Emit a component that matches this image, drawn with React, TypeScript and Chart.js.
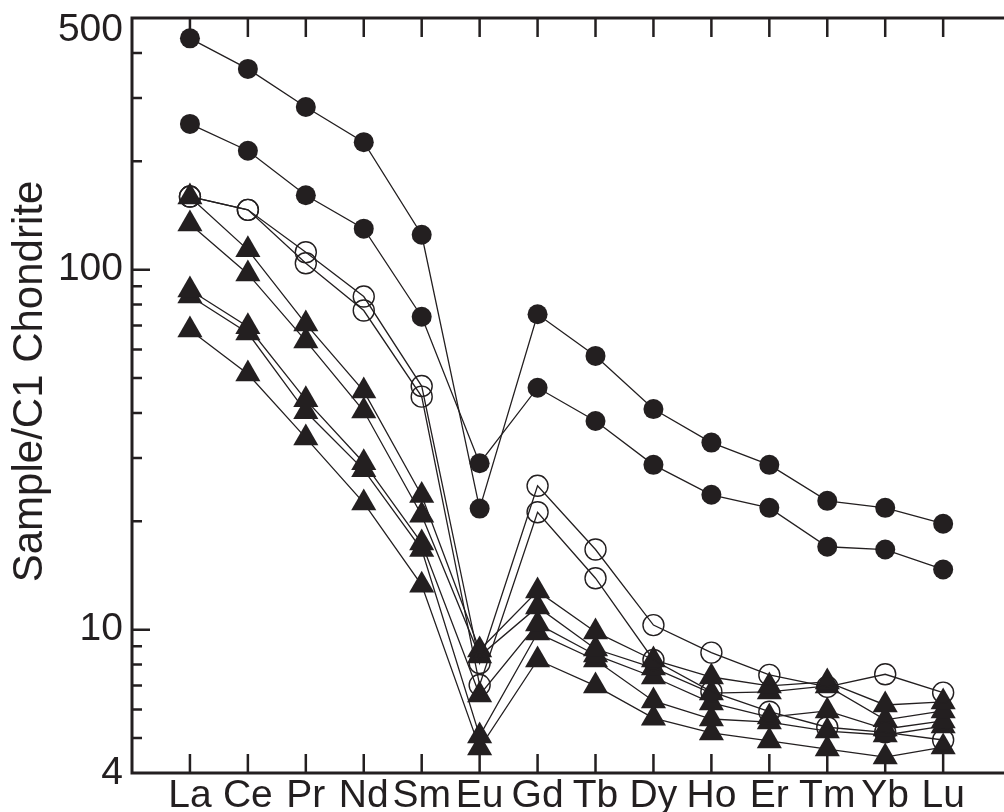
import React, { useEffect, useRef } from 'react';
import { Chart, registerables } from 'chart.js';

Chart.register(...registerables);

const ELEMENTS = ['La', 'Ce', 'Pr', 'Nd', 'Sm', 'Eu', 'Gd', 'Tb', 'Dy', 'Ho', 'Er', 'Tm', 'Yb', 'Lu'];

// filled circles
const circleHigh = [439, 361, 283, 226, 125, 21.7, 75.2, 57.6, 41.0, 33.1, 28.7, 22.8, 21.8, 19.7];
const circleLow = [254, 214, 161, 130, 74, 29.0, 47.0, 38.0, 28.7, 23.7, 21.8, 17.0, 16.7, 14.7];
// open circles
const openA = [159.6, 146.6, 111.8, 84.2, 47.5, 8.08, 25.1, 16.7, 10.3, 8.64, 7.49, 6.94, 7.52, 6.69];
const openB = [159.6, 146.6, 104.2, 77.0, 44.4, 7.02, 21.2, 13.9, 8.24, 6.73, 5.92, 5.36, 5.19, 4.94];
// filled triangles
const tri1 = [159.2, 113.5, 70.7, 46.0, 23.6, 8.78, 12.8, 9.86, 8.24, 7.39, 6.98, 7.16, 6.18, 6.3];
const tri2 = [134.0, 97.3, 63.4, 40.5, 20.8, 8.45, 11.57, 8.84, 7.83, 6.67, 6.72, 6.98, 5.62, 5.95];
const tri3 = [87.8, 69.4, 43.5, 29.1, 17.4, 6.59, 10.38, 8.51, 7.39, 6.26, 5.72, 5.95, 5.3, 5.58];
const tri4 = [84.5, 66.7, 40.3, 27.8, 16.7, 5.07, 9.79, 8.24, 6.34, 5.65, 5.54, 5.23, 5.1, 5.4];
const tri5 = [68.0, 51.3, 34.1, 22.5, 13.3, 4.69, 8.24, 6.98, 5.68, 5.17, 4.91, 4.66, 4.43, 4.72];

const Y_LABELS = [4, 10, 100, 500];
const Y_MAJOR = [10, 100];
const Y_MINOR = [5, 6, 7, 8, 9, 20, 30, 40, 50, 60, 70, 80, 90, 200, 300, 400];
const Y_TITLE = 'Sample/C1 Chondrite';

const INK = '#231f20';
const FONT = "'Liberation Sans', Arial, Helvetica, sans-serif";

type Kind = 'dot' | 'ring' | 'tri';

function makeDataset(values: number[], kind: Kind) {
  const base: any = {
    data: values.map((v, i) => ({ x: i, y: v })),
    borderColor: INK,
    borderWidth: 1.3,
    tension: 0,
    fill: false,
    pointHoverRadius: 0,
  };
  if (kind === 'dot') {
    return { ...base, pointStyle: 'circle', pointRadius: 10, pointBackgroundColor: INK, pointBorderColor: INK, pointBorderWidth: 0 };
  }
  if (kind === 'ring') {
    return { ...base, pointStyle: 'circle', pointRadius: 10.5, pointBackgroundColor: 'rgba(0,0,0,0)', pointBorderColor: INK, pointBorderWidth: 1.4 };
  }
  return { ...base, pointStyle: 'triangle', pointRadius: 14.5, pointBackgroundColor: INK, pointBorderColor: INK, pointBorderWidth: 0 };
}

export default function App() {
  const ref = useRef<HTMLCanvasElement>(null);

  useEffect(() => {
    const canvas = ref.current;
    if (!canvas) return;

    const framePlugin = {
      id: 'frame',
      beforeDatasetsDraw(chart: any) {
        const { ctx, chartArea: a, scales } = chart;
        const xs = scales.x;
        const ys = scales.y;
        ctx.save();
        ctx.strokeStyle = INK;
        ctx.lineWidth = 3;
        ctx.beginPath();
        ctx.moveTo(chart.width, a.top);
        ctx.lineTo(a.left, a.top);
        ctx.lineTo(a.left, a.bottom);
        ctx.lineTo(chart.width, a.bottom);
        ctx.stroke();

        ctx.lineWidth = 2.5;
        ctx.beginPath();
        ELEMENTS.forEach((_, i) => {
          const x = xs.getPixelForValue(i);
          ctx.moveTo(x, a.bottom);
          ctx.lineTo(x, a.bottom - 19);
          ctx.moveTo(x, a.top);
          ctx.lineTo(x, a.top + 19);
        });
        Y_MAJOR.forEach((v) => {
          const y = ys.getPixelForValue(v);
          ctx.moveTo(a.left, y);
          ctx.lineTo(a.left + 18, y);
        });
        Y_MINOR.forEach((v) => {
          const y = ys.getPixelForValue(v);
          ctx.moveTo(a.left, y);
          ctx.lineTo(a.left + 10, y);
        });
        ctx.stroke();

        ctx.fillStyle = INK;
        ctx.font = `39px ${FONT}`;
        ctx.textAlign = 'right';
        ctx.textBaseline = 'middle';
        Y_LABELS.forEach((v) => {
          let y = ys.getPixelForValue(v);
          if (y < a.top + 12) y = a.top + 12;
          ctx.fillText(String(v), a.left - 9, y);
        });

        ctx.save();
        ctx.translate(42, (a.top + a.bottom) / 2 - 14);
        ctx.rotate(-Math.PI / 2);
        ctx.font = `42px ${FONT}`;
        ctx.textAlign = 'center';
        ctx.textBaseline = 'alphabetic';
        ctx.fillText(Y_TITLE, 0, 0);
        ctx.restore();

        ctx.restore();
      },
    };

    const chart = new Chart(canvas, {
      type: 'line',
      data: {
        datasets: [
          makeDataset(circleHigh, 'dot'),
          makeDataset(circleLow, 'dot'),
          makeDataset(openA, 'ring'),
          makeDataset(openB, 'ring'),
          makeDataset(tri1, 'tri'),
          makeDataset(tri2, 'tri'),
          makeDataset(tri3, 'tri'),
          makeDataset(tri4, 'tri'),
          makeDataset(tri5, 'tri'),
        ],
      },
      options: {
        animation: false,
        responsive: false,
        events: [],
        layout: { padding: { top: 18, right: 1, left: 0, bottom: 0 } },
        plugins: { legend: { display: false }, tooltip: { enabled: false } },
        scales: {
          x: {
            type: 'linear',
            min: -1,
            max: 13.8,
            grid: { display: false, drawTicks: false, tickLength: 0 },
            border: { display: false },
            afterBuildTicks: (s: any) => {
              s.ticks = ELEMENTS.map((_, i) => ({ value: i }));
            },
            afterFit: (s: any) => {
              s.height = 39;
            },
            ticks: {
              autoSkip: false,
              maxRotation: 0,
              padding: 0,
              color: INK,
              font: { family: FONT, size: 39 },
              callback: (v: any) => {
                const n = Number(v);
                return Number.isInteger(n) && n >= 0 && n < ELEMENTS.length ? ELEMENTS[n] : '';
              },
            },
          },
          y: {
            type: 'logarithmic',
            min: 4,
            max: 500,
            grid: { display: false, drawTicks: false },
            border: { display: false },
            ticks: { display: false },
            afterFit: (s: any) => {
              s.width = 132;
            },
          },
        },
      },
      plugins: [framePlugin],
    } as any);

    return () => chart.destroy();
  }, []);

  return (
    <canvas
      ref={ref}
      width={1004}
      height={812}
      style={{ position: 'absolute', left: 0, top: 0, display: 'block' }}
    />
  );
}
